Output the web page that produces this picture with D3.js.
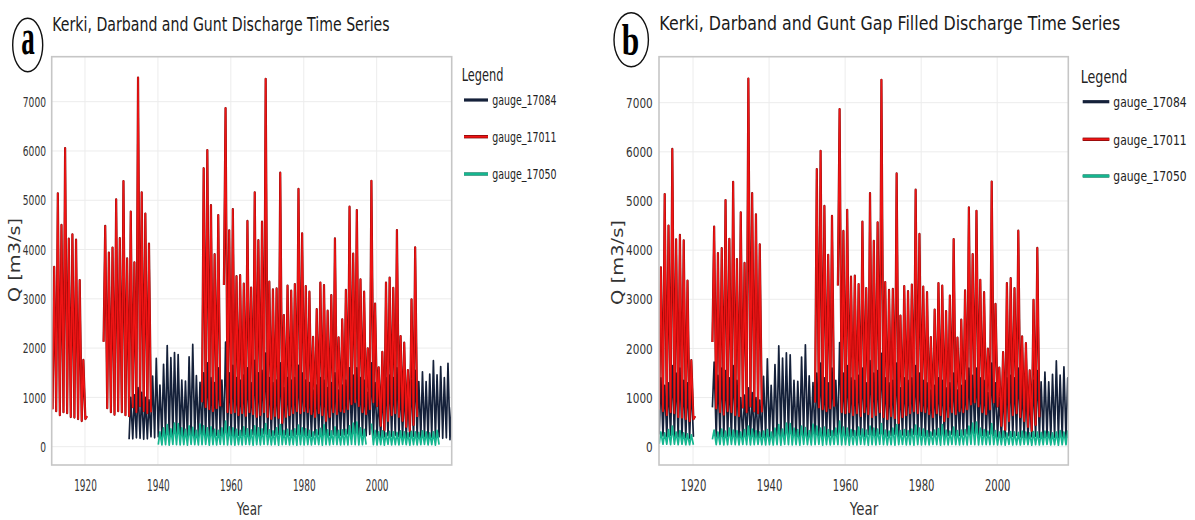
<!DOCTYPE html>
<html><head><meta charset="utf-8">
<script src="https://cdn.jsdelivr.net/npm/d3@7/dist/d3.min.js"></script>
<style>
body{margin:0;background:#fff}
svg{display:block}
text{font-family:"DejaVu Sans",Verdana,sans-serif}
</style>
</head><body>
<svg id="c" width="1195" height="520"></svg>
<script>
const N = null;
const years = d3.range(1911, 2021);
const xTicks = [1920, 1940, 1960, 1980, 2000];
const yTicks = [0, 1000, 2000, 3000, 4000, 5000, 6000, 7000];
const seriesNames = ["gauge_17084", "gauge_17011", "gauge_17050"];

// gauge_17011 (red): annual peak and annual low, m3/s (1911..2020)
const red17011Peak = [
 3650,5140,4500,6060,4220,4310,4200,3380,1760,620,
 N,N,N,N,4480,3940,4040,5020,4230,5390,
 3820,4770,3740,7490,5160,4730,4120,N,N,N,
 N,N,N,N,N,N,N,N,N,N,
 N,5650,6020,4900,3905,4700,N,6870,4390,4820,
 3460,3480,3310,4580,3230,5160,4190,4565,7465,3350,
 3190,3210,5560,2670,3270,3165,3300,5230,4330,3260,
 3145,2230,2790,3330,3280,2760,3075,4225,2220,2585,
 3180,4870,3920,4800,3395,3145,1995,5395,2905,1610,
 1925,3330,3430,3225,4395,2245,2110,1555,2990,4045,
 N,N,N,N,N,N,N,N,N,N];
const red17011Low = [
 760,720,640,700,680,600,590,560,520,560,
 N,N,N,N,2130,780,700,650,720,700,
 640,620,800,700,820,720,680,700,N,N,
 N,N,N,N,N,N,N,N,N,N,
 N,900,800,760,720,780,820,3280,700,680,
 700,640,680,620,700,660,600,640,700,600,
 560,620,580,480,600,640,680,720,680,720,
 700,660,600,680,640,520,600,700,660,720,
 700,760,860,900,820,700,660,760,900,820,
 420,340,520,640,680,600,520,400,320,440,
 600,N,N,N,N,N,N,N,N,N];

// gauge_17084 (black): observed peaks / lows (panel a)
const black17084Peak = [
 N,N,N,N,N,N,N,N,N,N,
 N,N,N,N,N,N,N,N,N,N,
 N,1000,1050,1200,1100,1000,950,1430,1790,1250,
 1670,2050,1805,1910,1870,1350,1330,1825,2075,1440,
 1305,1500,1700,1400,1300,1600,1350,2120,1500,1650,
 1400,1350,1450,1600,1300,1750,1500,1550,1900,1400,
 1300,1350,1700,1200,1400,1350,1400,1650,1500,1350,
 1300,1150,1250,1400,1350,1200,1300,1500,1150,1250,
 1350,1600,1450,1600,1400,1350,1100,1700,1300,1000,
 1150,1400,1450,1400,1600,1250,1200,1050,1350,1550,
 1320,1520,1320,1475,1745,1455,1625,1400,1690,800];
const black17084Low = [
 N,N,N,N,N,N,N,N,N,N,
 N,N,N,N,N,N,N,N,N,N,
 N,150,160,180,170,150,160,200,180,200,
 190,210,200,220,200,180,190,200,220,200,
 190,200,220,210,200,230,220,240,230,220,
 210,230,220,240,210,250,230,220,260,240,
 220,230,250,210,240,230,220,250,240,230,
 220,210,230,240,220,210,230,250,220,230,
 240,260,250,270,240,230,220,250,230,200,
 180,200,220,210,230,200,190,170,200,210,
 190,180,200,170,190,180,200,170,180,140];
// gauge_17084 gap-filled values (panel b only)
const black17084FillPeak = [
 1400,1250,1300,1650,1500,1600,1350,1300,1250,N,
 N,N,N,N,1720,1450,1600,1550,1400,1650,
 1350,N,N,N,N,N,N,N,N,N,
 ...Array(80).fill(N)];
const black17084FillLow = [
 250,220,200,230,210,200,190,180,170,200,
 N,N,N,N,800,200,190,200,210,190,
 200,N,N,N,N,N,N,N,N,N,
 ...Array(80).fill(N)];

// gauge_17050 (green): observed peaks / lows (panel a)
const green17050Peak = [
 N,N,N,N,N,N,N,N,N,N,
 N,N,N,N,N,N,N,N,N,N,
 N,N,N,N,N,N,N,N,N,300,
 380,450,360,480,470,380,350,420,390,330,
 460,420,380,400,350,330,380,520,400,380,
 350,330,400,360,340,420,380,360,470,340,
 320,380,450,330,350,330,360,440,380,360,
 330,300,340,370,450,340,320,400,330,340,
 350,420,480,500,380,350,N,470,330,300,
 320,280,310,300,290,320,300,280,310,300,
 290,320,300,280,300,330,N,N,N,N];
const green17050Low = [
 N,N,N,N,N,N,N,N,N,N,
 N,N,N,N,N,N,N,N,N,N,
 N,N,N,N,N,N,N,N,N,40,
 35,40,30,45,40,35,40,30,45,40,
 35,40,45,30,40,35,45,40,35,40,
 30,40,35,45,40,30,40,35,45,40,
 35,40,30,40,45,35,40,30,40,35,
 40,35,45,40,30,40,35,45,40,35,
 40,35,45,40,35,40,40,N,40,35,
 40,30,45,35,40,35,45,40,30,40,
 35,40,45,35,40,30,40,N,N,N];
// gauge_17050 gap-filled values (panel b only)
const green17050FillPeak = [
 300,280,350,420,300,330,280,260,240,N,
 N,N,N,N,340,300,360,320,380,340,
 330,300,350,420,360,330,300,320,350,N,
 ...Array(50).fill(N),
 N,N,N,N,N,N,320,N,N,N,
 N,N,N,N,N,N,N,N,N,N,
 N,N,N,N,N,N,300,320,300,290];
const green17050FillLow = [
 60,50,50,40,50,40,50,40,40,40,
 N,N,N,N,150,40,45,35,40,45,
 40,35,45,40,35,40,45,40,35,N,
 ...Array(50).fill(N),
 N,N,N,N,N,N,N,40,N,N,
 N,N,N,N,N,N,N,N,N,N,
 N,N,N,N,N,N,N,40,40,40];

const fillGaps = (obs, fill) => obs.map((v, i) => v != null ? v : fill[i]);

const panels = [
 {id:"a", left:51.7, right:451.7, top:56.7, bottom:465, xd:[1910.87,2020.57], yd:[-372,7913],
  title:"Kerki, Darband and Gunt Discharge Time Series", tx:52.3, tb:31.5, tw:337.7,
  cx:27.7, cy:45, rx:15, ry:26.7, letter:"a", lx:28, lb:54.5, lw:13.5, lfs:50,
  yr:46, ycw:5.8, xb:491.5, xcw:5.67, yearX:249.3, yearW:25.3, qx:14.5, qy:260, qw:84,
  lgx:461.7, lgb:81.5, lgw:41.7, lx1:464, lx2:488, lys:[100,136.7,174], ltx:492.3, ltw:64.4, lgfs:18,
  black:[black17084Peak, black17084Low], red:[red17011Peak, red17011Low], green:[green17050Peak, green17050Low]},
 {id:"b", left:659, right:1068.3, top:56.7, bottom:465, xd:[1911.05,2018.7], yd:[-372,7936],
  title:"Kerki, Darband and Gunt Gap Filled Discharge Time Series", tx:659.3, tb:29.8, tw:461.5,
  cx:631.2, cy:39.7, rx:17.2, ry:27, letter:"b", lx:630.5, lb:55, lw:17.5, lfs:45,
  yr:652.7, ycw:6.67, xb:491, xcw:6.4, yearX:864, yearW:28.3, qx:617, qy:262.5, qw:85,
  lgx:1080.7, lgb:83.3, lgw:46.7, lx1:1082.7, lx2:1109.3, lys:[101.7,139.3,176], ltx:1113.3, ltw:73.4, lgfs:17.5,
  black:[fillGaps(black17084Peak, black17084FillPeak), fillGaps(black17084Low, black17084FillLow)],
  red:[red17011Peak, red17011Low],
  green:[fillGaps(green17050Peak, green17050FillPeak), fillGaps(green17050Low, green17050FillLow)]}
];

const C = {k:"#15213a", r:"#f01414", rEdge:"#780808", g:"#14b68f"};
const svg = d3.select("#c");

// Fit a text to a target width: shrink the font so its natural width matches,
// then stretch vertically about the baseline to keep the glyph height.
function fit(sel, w){
  sel.each(function(){
    const t = d3.select(this);
    const nat = this.getComputedTextLength();
    if (!nat) return;
    const r = w / nat;
    const fs = parseFloat(getComputedStyle(this).fontSize);
    t.style("font-size", (fs * r) + "px");
    const x = parseFloat(t.attr("x")) || 0, y = parseFloat(t.attr("y")) || 0;
    const prev = t.attr("transform") || "";
    t.attr("transform", (prev + ` translate(${x},${y}) scale(1,${1 / r}) translate(${-x},${-y})`).trim());
  });
}

function points(pair){
  const [peak, low] = pair, pts = [];
  years.forEach((yr, i) => {
    pts.push({t: yr + 0.1, v: low[i]});
    pts.push({t: yr + 0.55, v: peak[i]});
  });
  return pts;
}

panels.forEach(p => {
  const g = svg.append("g");
  const x = d3.scaleLinear().domain(p.xd).range([p.left, p.right]);
  const y = d3.scaleLinear().domain(p.yd).range([p.bottom, p.top]);

  // grid
  g.selectAll("line.h").data(yTicks).join("line").attr("class","h")
    .attr("x1", p.left).attr("x2", p.right).attr("y1", d => y(d)).attr("y2", d => y(d))
    .attr("stroke", "#ececec").attr("stroke-width", 1);
  g.selectAll("line.v").data(xTicks).join("line").attr("class","v")
    .attr("y1", p.top).attr("y2", p.bottom).attr("x1", d => x(d)).attr("x2", d => x(d))
    .attr("stroke", "#ececec").attr("stroke-width", 1);

  // clip
  svg.append("clipPath").attr("id", "clip" + p.id).append("rect")
    .attr("x", p.left).attr("y", p.top).attr("width", p.right - p.left).attr("height", p.bottom - p.top);
  const plot = g.append("g").attr("clip-path", `url(#clip${p.id})`);
  const line = d3.line().defined(d => d.v != null).x(d => x(d.t)).y(d => y(d.v));

  plot.append("path").attr("d", line(points(p.black))).attr("fill","none")
    .attr("stroke", C.k).attr("stroke-width", 1.7).attr("stroke-linejoin","round");
  plot.append("path").attr("d", line(points(p.red))).attr("fill","none")
    .attr("stroke", C.rEdge).attr("stroke-width", 2.2).attr("stroke-linejoin","round");
  plot.append("path").attr("d", line(points(p.red))).attr("fill","none")
    .attr("stroke", C.r).attr("stroke-width", 1.5).attr("stroke-linejoin","round");
  plot.append("path").attr("d", line(points(p.green))).attr("fill","none")
    .attr("stroke", C.g).attr("stroke-width", 1.7).attr("stroke-linejoin","round");

  // frame
  g.append("rect").attr("x", p.left).attr("y", p.top).attr("width", p.right - p.left).attr("height", p.bottom - p.top)
    .attr("fill","none").attr("stroke","#c6c6c6").attr("stroke-width",1.6);

  // axes
  const xa = g.append("g").attr("transform", `translate(0,${p.bottom})`)
    .call(d3.axisBottom(x).tickValues(xTicks).tickFormat(d3.format("d")).tickSize(0));
  xa.select(".domain").remove();
  xa.attr("font-family", null).attr("font-size", 15.5).attr("color", "#333");
  xa.selectAll("text").attr("y", p.xb - p.bottom).attr("dy", 0)
    .each(function(){ fit(d3.select(this), this.textContent.length * p.xcw); });

  const ya = g.append("g").attr("transform", `translate(${p.left},0)`)
    .call(d3.axisLeft(y).tickValues(yTicks).tickFormat(d3.format("d")).tickSize(0).tickPadding(p.left - p.yr));
  ya.select(".domain").remove();
  ya.attr("font-family", null).attr("font-size", 14.5).attr("color", "#333");
  ya.selectAll("text").each(function(){ fit(d3.select(this), this.textContent.length * p.ycw); });

  // axis titles
  g.append("text").attr("x", p.yearX).attr("y", 515.5).attr("text-anchor","middle")
    .style("font-size", "17px").attr("fill","#333").text("Year").call(fit, p.yearW);
  g.append("text").attr("transform", `translate(${p.qx},${p.qy}) rotate(-90)`).attr("text-anchor","middle")
    .attr("dy","0.36em").style("font-size", "16px").attr("fill","#333").text("Q [m3/s]").call(fit, p.qw);

  // title
  g.append("text").attr("x", p.tx).attr("y", p.tb).style("font-size", "19.5px").attr("fill","#1a1a1a")
    .text(p.title).call(fit, p.tw);

  // panel letter
  g.append("ellipse").attr("cx", p.cx).attr("cy", p.cy).attr("rx", p.rx).attr("ry", p.ry)
    .attr("fill","#fff").attr("stroke","#111").attr("stroke-width",1.4);
  g.append("text").attr("x", p.lx).attr("y", p.lb).attr("text-anchor","middle")
    .style("font-family","'Liberation Serif','DejaVu Serif',serif").attr("font-weight","bold")
    .style("font-size", p.lfs + "px").attr("fill","#000").text(p.letter).call(fit, p.lw);

  // legend
  g.append("text").attr("x", p.lgx).attr("y", p.lgb).style("font-size", p.lgfs + "px").attr("fill","#222")
    .text("Legend").call(fit, p.lgw);
  const cols = [C.k, C.r, C.g];
  seriesNames.forEach((nm, i) => {
    const ly = p.lys[i];
    if (i === 1) g.append("line").attr("x1", p.lx1).attr("x2", p.lx2).attr("y1", ly).attr("y2", ly)
      .attr("stroke", C.rEdge).attr("stroke-width", 3.4);
    if (i === 2) g.append("line").attr("x1", p.lx1).attr("x2", p.lx2).attr("y1", ly).attr("y2", ly)
      .attr("stroke", "#0b7d62").attr("stroke-width", 3.4);
    g.append("line").attr("x1", p.lx1).attr("x2", p.lx2).attr("y1", ly).attr("y2", ly)
      .attr("stroke", cols[i]).attr("stroke-width", i === 0 ? 3.2 : 2);
    g.append("text").attr("x", p.ltx).attr("y", ly + 5.5).style("font-size", "14.5px").attr("fill","#222")
      .text(nm).call(fit, p.ltw);
  });
});
</script>
</body></html>
